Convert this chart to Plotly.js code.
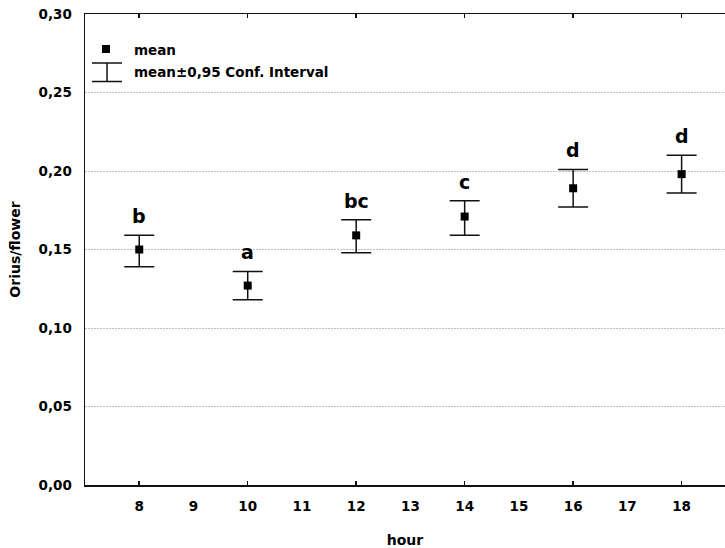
<!DOCTYPE html>
<html>
<head>
<meta charset="utf-8">
<script src="https://cdn.plot.ly/plotly-3.0.1.min.js"></script>
<style>html,body{margin:0;padding:0;background:#fff;}#chart{width:725px;height:548px;}</style>
</head>
<body>
<div id="chart"></div>
<script>
// Data
var hours = [8, 10, 12, 14, 16, 18];
var meanVals = [0.150, 0.127, 0.159, 0.171, 0.189, 0.198];
var upperVals = [0.159, 0.136, 0.169, 0.181, 0.201, 0.210];
var lowerVals = [0.139, 0.118, 0.148, 0.159, 0.177, 0.186];
var groupLetters = ['b', 'a', 'bc', 'c', 'd', 'd'];
var xTickVals = [8, 9, 10, 11, 12, 13, 14, 15, 16, 17, 18];
var xTickText = ['8', '9', '10', '11', '12', '13', '14', '15', '16', '17', '18'];
var xMarkVals = [8, 10, 12, 14, 16, 18];
var yTickVals = [0, 0.05, 0.10, 0.15, 0.20, 0.25, 0.30];
var yTickText = ['0,00', '0,05', '0,10', '0,15', '0,20', '0,25', '0,30'];
var legendLabels = ['mean', 'mean\u00b10,95 Conf. Interval'];

var FONT = 'DejaVu Sans, Arial, sans-serif';
var M = {l: 85, r: 0, t: 14, b: 63};
var W = 725, H = 548;
var pw = W - M.l - M.r, ph = H - M.t - M.b;
function px(x) { return (x - M.l) / pw; }
function py(y) { return (H - M.b - y) / ph; }

var errPlus = meanVals.map(function (m, i) { return upperVals[i] - m; });
var errMinus = meanVals.map(function (m, i) { return m - lowerVals[i]; });

var trace = {
  x: hours, y: meanVals, type: 'scatter', mode: 'markers',
  marker: {symbol: 'square', size: 8, color: '#000'},
  error_y: {type: 'data', symmetric: false, array: errPlus, arrayminus: errMinus,
            color: '#111', thickness: 1.5, width: 15},
  showlegend: false, hoverinfo: 'skip'
};
var tickTrace = {x: [xMarkVals[0]], y: [0], xaxis: 'x2', yaxis: 'y', mode: 'markers',
  marker: {opacity: 0}, showlegend: false, hoverinfo: 'skip'};

var bold = function (s) { return {family: FONT, size: s, color: '#000', weight: 'bold'}; };

var annotations = hours.map(function (h, i) {
  return {x: h, y: upperVals[i], xref: 'x', yref: 'y', text: groupLetters[i],
    showarrow: false, yanchor: 'bottom', yshift: 6, font: bold(19)};
});
annotations.push({x: px(132), y: py(50), xref: 'paper', yref: 'paper', text: legendLabels[0],
  showarrow: false, xanchor: 'left', yanchor: 'middle', font: bold(13.5)});
annotations.push({x: px(132), y: py(72), xref: 'paper', yref: 'paper', text: legendLabels[1],
  showarrow: false, xanchor: 'left', yanchor: 'middle', font: bold(13.5)});

var lineStyle = {color: '#111', width: 1.5};
var shapes = [
  {type: 'rect', xref: 'paper', yref: 'paper', x0: px(102), x1: px(110), y0: py(45), y1: py(53),
   fillcolor: '#000', line: {width: 0}},
  {type: 'line', xref: 'paper', yref: 'paper', x0: px(92), x1: px(122), y0: py(63), y1: py(63), line: lineStyle},
  {type: 'line', xref: 'paper', yref: 'paper', x0: px(92), x1: px(122), y0: py(81.5), y1: py(81.5), line: lineStyle},
  {type: 'line', xref: 'paper', yref: 'paper', x0: px(107), x1: px(107), y0: py(63), y1: py(81.5), line: lineStyle}
];

var layout = {
  width: W, height: H, margin: M,
  paper_bgcolor: '#fff', plot_bgcolor: '#fff',
  font: bold(13.5),
  showlegend: false,
  xaxis: {range: [7, 18.8], tickmode: 'array', tickvals: xTickVals, ticktext: xTickText,
    ticks: '', showgrid: false, zeroline: false, showline: true, mirror: true,
    linecolor: '#111', linewidth: 1.5, ticklabelstandoff: 8,
    tickfont: bold(13.5),
    title: {text: 'hour', standoff: 22, font: bold(14)}},
  xaxis2: {overlaying: 'x', matches: 'x', range: [7, 18.8], tickmode: 'array', tickvals: xMarkVals,
    showticklabels: false, ticks: 'inside', ticklen: 4, tickwidth: 1.5, tickcolor: '#111',
    mirror: 'ticks', showline: false, showgrid: false, zeroline: false},
  yaxis: {range: [0, 0.30], tickmode: 'array', tickvals: yTickVals, ticktext: yTickText,
    ticks: '', showgrid: true, gridcolor: '#bdbdbd', griddash: '2px,1px', gridwidth: 1,
    zeroline: false, showline: true, mirror: false, linecolor: '#111', linewidth: 1.5,
    ticklabelstandoff: 9,
    tickfont: bold(13.5),
    title: {text: 'Orius/flower', standoff: 14, font: bold(14)}},
  annotations: annotations,
  shapes: shapes
};

Plotly.newPlot('chart', [trace, tickTrace], layout, {displayModeBar: false, staticPlot: true});
</script>
</body>
</html>
